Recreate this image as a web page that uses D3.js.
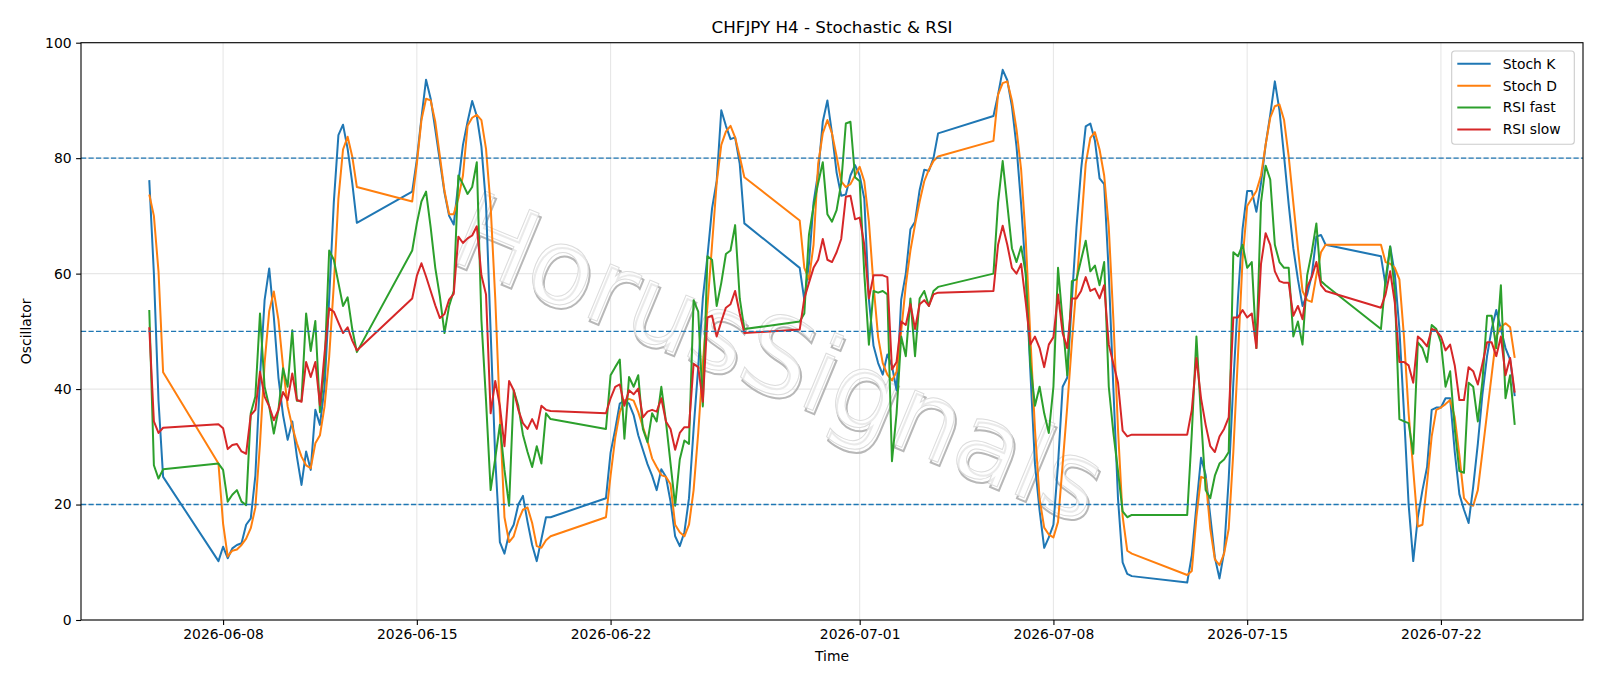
<!DOCTYPE html>
<html>
<head>
<meta charset="utf-8">
<script src="https://cdn.jsdelivr.net/npm/d3@7"></script>
<style>
  body { margin: 0; background: #fff; }
  text { font-family: "DejaVu Sans", sans-serif; }
</style>
</head>
<body>
<svg id="chart" width="1600" height="686"></svg>
<script>
// H4 sessions: first bar of each block and number of 4-hour bars in it
const sessions = [
  ["2026-06-05T08:00:00Z", 4],
  ["2026-06-07T20:00:00Z", 31],
  ["2026-06-14T20:00:00Z", 31],
  ["2026-06-21T20:00:00Z", 31],
  ["2026-06-28T20:00:00Z", 31],
  ["2026-07-05T20:00:00Z", 31],
  ["2026-07-12T20:00:00Z", 31],
  ["2026-07-19T20:00:00Z", 30]
];

const stochK = [
  76.2, 60, 38, 24.8,
  10.2, 12.7, 10.7, 12.4, 13.0, 13.3, 16.5, 17.6, 25, 42, 55.4, 60.9, 52.5, 42, 35.5, 31.2, 34.4, 28.3, 23.4, 29.2, 26.0, 36.4, 33.8, 40.4, 55.7, 72.3, 84, 85.8, 81.6, 75.7, 68.8,
  74.2, 79.7, 87, 93.6, 90.3, 85, 79.5, 74, 70, 68.5, 75.7, 82.3, 86.3, 89.9, 87.3, 82, 72, 50, 28, 13.5, 11.5, 15, 16.5, 20, 21.5, 17, 13, 10.2, 14, 17.8, 17.8,
  21.1, 29, 33, 37.5, 38, 37.5, 35.5, 32, 29.5, 27, 25, 22.5, 26.1, 24.8, 20.5, 14.5, 12.8, 15.2, 21.1, 33.1, 43.8, 55.7, 63, 71.3, 76, 88.3, 85.6, 83.3, 83.6, 79, 68.7,
  61.0, 55.4, 61.7, 72.3, 77.5, 86.3, 90, 84.3, 77.5, 73.5, 73.7, 77, 78.8, 77, 73, 55.5, 47.5, 44.5, 42.5, 46, 44, 39.8, 55.5, 60, 67.7, 69, 74.5, 78, 77.8, 80, 84.3,
  87.3, 91, 95.3, 93.5, 89, 82, 72, 60, 43, 27, 19, 12.5, 14.3, 16.5, 27, 40.4, 42, 55.5, 68, 78, 85.5, 86, 83, 76.5, 75.5, 60, 40, 21, 10, 8, 7.6,
  6.5, 11.2, 19.8, 28.1, 25.1, 18, 10.8, 7.2, 11.8, 24.5, 41, 55.7, 67.7, 74.3, 74.3, 70.7, 75.7, 82.3, 87.5, 93.3, 88.3, 80.3, 72, 64.4, 59, 54.4, 56.4, 59.7, 66.4, 66.7, 65,
  63, 58, 64.7, 60, 50.4, 35.8, 20, 10.2, 17.8, 22.5, 26.5, 36.4, 36.8, 36.8, 38.4, 38.4, 29.1, 21.8, 19.1, 16.8, 23.1, 30.5, 39.1, 45.7, 50.4, 53.7, 50.4, 47.1, 45.1, 38.8
];

const stochD = [
  73.7, 70, 60.4, 42.9,
  27.1, 16.7, 11.0, 12.0, 12.2, 13.0, 14.1, 15.9, 19.5, 30.5, 44.5, 53.5, 56.9, 52, 43.9, 37, 33.5, 30.6, 28.3, 26.8, 26.3, 30.6, 32, 37, 45.6, 58, 73, 81.5, 83.7, 80.3, 75,
  72.5, 79, 86.6, 90.3, 90, 86.3, 80.3, 74.3, 70.3, 70.3, 73, 77, 85.6, 87, 87.5, 86.6, 81.6, 71.7, 55.7, 35.8, 17.8, 13.5, 14.5, 17.2, 19.1, 19.5, 16.8, 12.8, 12.5, 13.8, 14.5,
  17.8, 25, 31.5, 36, 38, 38.3, 38, 36, 33.5, 31, 28, 26.5, 25.1, 24.8, 23.5, 16.5, 15.2, 14.5, 16.5, 22.5, 32.4, 44.4, 54.4, 65, 75.7, 82.3, 84.6, 85.6, 83.6, 80.3, 76.7,
  69.2, 61, 59, 65, 79, 84.3, 86.6, 84.3, 80.3, 76, 75, 75.5, 77, 78.5, 76, 69, 58, 49, 44.5, 42.5, 41.5, 43, 50, 58, 64, 68.5, 72.5, 76, 78, 79.5, 80.3,
  83, 91, 93, 93.3, 90, 85, 78, 66, 49, 33, 21, 16, 14.8, 14.3, 17, 27, 37, 48, 58, 68, 79, 83.5, 84.5, 81.5, 77, 68, 52, 33, 18, 12, 11.5,
  7.8, 8.5, 17.8, 24.8, 24.5, 15.8, 10.5, 9.5, 11.5, 15.8, 29.1, 45.7, 62.4, 71.7, 73, 74.3, 77, 82.3, 87, 89, 89.3, 86.6, 80.3, 72.3, 64.4, 57, 55.4, 55.1, 59.7, 63.7, 65,
  65, 62, 61.7, 61, 59, 49, 35.8, 26, 16.2, 16.5, 23.8, 31.8, 36.4, 36.8, 37.4, 38.1, 35.1, 28.5, 21.1, 20.1, 19.8, 22.5, 29.1, 35.8, 42.4, 49.1, 50.7, 51.4, 50.7, 45.4
];

const rsiFast = [
  53.7, 26.8, 24.5, 26.1,
  27.1, 26.0, 20.5, 21.7, 22.5, 20.5, 19.9, 35.8, 38.7, 53.1, 40.4, 37, 32.3, 36.4, 43.6, 40.4, 50.2, 38, 38, 53.1, 46.6, 51.8, 36, 44, 64, 62.4, 58.4, 54.4, 55.9, 50.4, 46.4,
  64, 68.7, 72.5, 74.2, 68, 61, 56, 49.7, 54.4, 57, 77, 75.5, 73.8, 75, 79.3, 52, 38, 22.5, 28, 33.8, 26, 19.8, 39.8, 37.1, 32.1, 29.1, 26.5, 30.1, 27.1, 35.8, 34.8,
  33.1, 42.4, 43.8, 45.1, 31.4, 42.1, 40.4, 42.4, 33.1, 30.8, 35.8, 34.4, 40.4, 34.4, 27.1, 19.8, 27.8, 31.1, 30.5, 55.4, 53.4, 37, 63, 62.4, 54.4, 58.4, 63.4, 64, 68.4, 55.7, 50.4,
  51.7, 53.1, 66.7, 71.7, 75.7, 79.3, 70.3, 69, 71, 75.7, 86, 86.3, 76.7, 76, 60, 47.7, 57, 56.7, 57, 56.4, 27.5, 35.8, 49.1, 45.7, 55.7, 45.7, 55.7, 57, 54.4, 57, 57.7,
  60, 72.3, 79.5, 72, 64.4, 62, 64.7, 60, 44.4, 37.1, 40.4, 35.8, 32.4, 40.4, 61, 51.7, 42.4, 58.7, 59, 62.4, 65.7, 60.4, 61.4, 58, 62, 40.4, 32.4, 25.8, 18.8, 17.8, 18.2,
  18.2, 32.4, 49.1, 35.1, 22.5, 21.1, 25, 27.1, 27.8, 29.1, 63.7, 63, 65, 61, 62, 47.1, 72.3, 78.7, 76.3, 65, 62, 61, 61, 49.1, 51.7, 47.7, 59.7, 63.7, 68.7, 58.7, 58,
  50.4, 59, 64.7, 57, 34.8, 34.4, 34.1, 28.8, 48.1, 47.1, 44.7, 51.1, 50.4, 48.1, 40.4, 43.1, 33.1, 25.8, 25.5, 41.1, 40.4, 34.4, 41.4, 52.7, 52.7, 47.1, 58, 38.4, 42.4, 33.8
];

const rsiSlow = [
  50.7, 34.4, 32.4, 33.3,
  33.9, 33.2, 29.6, 30.3, 30.5, 29.2, 28.8, 35.5, 36.4, 43, 38.7, 37, 34.6, 36.4, 39.5, 38.1, 42.7, 38.1, 37.8, 44.7, 42.1, 44.7, 37.2, 46.2, 54, 53.4, 51.5, 49.7, 50.7, 48.4, 46.7,
  55.7, 59.6, 61.8, 59.5, 57, 54.5, 52.3, 53, 55.5, 56.5, 66.4, 65.3, 66.1, 66.6, 68.2, 59.7, 56.4, 35.8, 41.4, 37.1, 30.1, 41.4, 39.8, 36.4, 34.1, 33.1, 34.8, 33.1, 37.1, 36.4, 36.2,
  35.8, 38.4, 40.4, 40.8, 37.1, 39.8, 39.1, 40.1, 35.1, 36.1, 36.4, 36.1, 38.4, 34.4, 33.1, 29.5, 32.4, 33.4, 33.4, 44.4, 43.8, 37.8, 52.4, 52.7, 49.1, 51.7, 54.1, 54.7, 57, 53.1, 49.7,
  50.3, 55.7, 58.4, 61, 62.4, 66, 62.4, 62, 63.7, 66, 73.3, 73.5, 69.4, 69.7, 65, 55.7, 59.7, 59.7, 59.7, 59.4, 43.4, 44.7, 51.7, 51.1, 54.7, 50.4, 54.7, 55.4, 54.4, 56.4, 56.7,
  57, 65, 68.3, 65, 61, 60, 61.7, 55, 47.7, 49.1, 47.1, 43.8, 47.7, 49, 56.4, 49.7, 47.1, 55.7, 55.7, 57, 59.4, 57, 57.4, 55.7, 58, 47.7, 44.4, 41.1, 32.8, 31.8, 32.1,
  32.1, 36.4, 45.4, 38.4, 33.8, 30.1, 29.1, 31.8, 33.1, 35.1, 52.4, 52.4, 53.7, 52.4, 53.1, 47.1, 61.7, 67, 65, 60.4, 58.7, 58.4, 58.4, 52.7, 54.4, 52.1, 57.7, 59.4, 62, 58, 57,
  54.1, 56.4, 60.4, 55, 44.7, 44.7, 44.1, 41.1, 49.1, 48.4, 47.4, 50.4, 50.1, 49.1, 46.7, 47.7, 44.1, 38.1, 38.1, 43.8, 43.1, 40.8, 44.4, 48.1, 48.1, 45.7, 49.1, 42.4, 45.4, 39.4
];

const seriesNames = ["Stoch K", "Stoch D", "RSI fast", "RSI slow"];
const seriesColors = ["#1f77b4", "#ff7f0e", "#2ca02c", "#d62728"];
const levels = [20, 50, 80];
const xTickDates = ["2026-06-08", "2026-06-15", "2026-06-22", "2026-07-01", "2026-07-08", "2026-07-15", "2026-07-22"];
const yTicks = [0, 20, 40, 60, 80, 100];

// build the time axis from the session table
const times = sessions.flatMap(([start, n]) =>
  d3.range(n).map(i => d3.utcHour.offset(new Date(start), 4 * i)));

const svg = d3.select("#chart");
const plot = { left: 81, right: 1583, top: 42.7, bottom: 620 };

const tExtent = d3.extent(times);
const pad = (tExtent[1] - tExtent[0]) * 0.05;
const xScale = d3.scaleUtc()
  .domain([new Date(+tExtent[0] - pad), new Date(+tExtent[1] + pad)])
  .range([plot.left, plot.right]);
const yScale = d3.scaleLinear()
  .domain([0, 100])
  .range([plot.bottom, plot.top]);

// grid
const grid = svg.append("g").attr("stroke", "#b0b0b0").attr("stroke-opacity", 0.3).attr("stroke-width", 1.1);
xTickDates.forEach(d => {
  const x = xScale(new Date(d + "T00:00:00Z"));
  grid.append("line").attr("x1", x).attr("x2", x).attr("y1", plot.top).attr("y2", plot.bottom);
});
yTicks.forEach(v => {
  grid.append("line").attr("x1", plot.left).attr("x2", plot.right).attr("y1", yScale(v)).attr("y2", yScale(v));
});

// watermark: light letters with a soft grey shadow
const wm = svg.append("g")
  .attr("transform", "translate(776,364) rotate(22.5)");
wm.append("text")
  .attr("x", 3).attr("y", 3)
  .attr("text-anchor", "middle").attr("dominant-baseline", "middle")
  .attr("font-size", 106)
  .attr("fill", "none").attr("stroke", "#b8b8b8").attr("stroke-width", 2)
  .text("HorusSignals");
wm.append("text")
  .attr("text-anchor", "middle").attr("dominant-baseline", "middle")
  .attr("font-size", 106)
  .attr("fill", "#fff").attr("fill-opacity", 0.7).attr("stroke", "#dcdcdc").attr("stroke-width", 1)
  .text("HorusSignals");

// series
const allSeries = [stochK, stochD, rsiFast, rsiSlow];
const line = d3.line()
  .x((d, i) => xScale(times[i]))
  .y(d => yScale(d));

allSeries.forEach((vals, k) => {
  svg.append("path")
    .datum(vals)
    .attr("fill", "none")
    .attr("stroke", seriesColors[k])
    .attr("stroke-width", 2)
    .attr("stroke-linejoin", "round")
    .attr("d", line);
});

// reference levels
levels.forEach(v => {
  svg.append("line")
    .attr("x1", plot.left).attr("x2", plot.right)
    .attr("y1", yScale(v)).attr("y2", yScale(v))
    .attr("stroke", "#1f77b4").attr("stroke-width", 1.4)
    .attr("stroke-dasharray", "5.2,2.3");
});

// axes
const xAxis = d3.axisBottom(xScale)
  .tickValues(xTickDates.map(d => new Date(d + "T00:00:00Z")))
  .tickFormat(d3.utcFormat("%Y-%m-%d"))
  .tickSize(4.9).tickPadding(4.5);
const yAxis = d3.axisLeft(yScale)
  .tickValues(yTicks)
  .tickSize(4.9).tickPadding(4.5);

const gx = svg.append("g").attr("transform", `translate(0,${plot.bottom})`).call(xAxis);
const gy = svg.append("g").attr("transform", `translate(${plot.left},0)`).call(yAxis);
[gx, gy].forEach(g => {
  g.select(".domain").remove();
  g.selectAll(".tick line").attr("stroke", "#000").attr("stroke-width", 1.1);
  g.selectAll(".tick text").attr("fill", "#000").attr("font-size", 13.9).attr("font-family", "DejaVu Sans");
});

// frame
svg.append("rect")
  .attr("x", plot.left).attr("y", plot.top)
  .attr("width", plot.right - plot.left).attr("height", plot.bottom - plot.top)
  .attr("fill", "none").attr("stroke", "#000").attr("stroke-width", 1.1);

// labels
svg.append("text")
  .attr("x", (plot.left + plot.right) / 2).attr("y", 33)
  .attr("text-anchor", "middle").attr("font-size", 16.7)
  .text("CHFJPY H4 - Stochastic & RSI");
svg.append("text")
  .attr("x", (plot.left + plot.right) / 2).attr("y", 661)
  .attr("text-anchor", "middle").attr("font-size", 13.9)
  .text("Time");
svg.append("text")
  .attr("transform", `translate(31,${(plot.top + plot.bottom) / 2}) rotate(-90)`)
  .attr("text-anchor", "middle").attr("font-size", 13.9)
  .text("Oscillator");

// legend
const legend = svg.append("g").attr("transform", "translate(1451.7,51)");
legend.append("rect")
  .attr("width", 122.6).attr("height", 93.3).attr("rx", 3)
  .attr("fill", "#fff").attr("fill-opacity", 0.8)
  .attr("stroke", "#cccccc").attr("stroke-width", 1.1);
seriesNames.forEach((name, k) => {
  const y = 12.8 + k * 21.9;
  legend.append("line")
    .attr("x1", 5.6).attr("x2", 39).attr("y1", y).attr("y2", y)
    .attr("stroke", seriesColors[k]).attr("stroke-width", 2);
  legend.append("text")
    .attr("x", 51).attr("y", y).attr("dy", "0.35em")
    .attr("font-size", 13.9)
    .text(name);
});
</script>
</body>
</html>
